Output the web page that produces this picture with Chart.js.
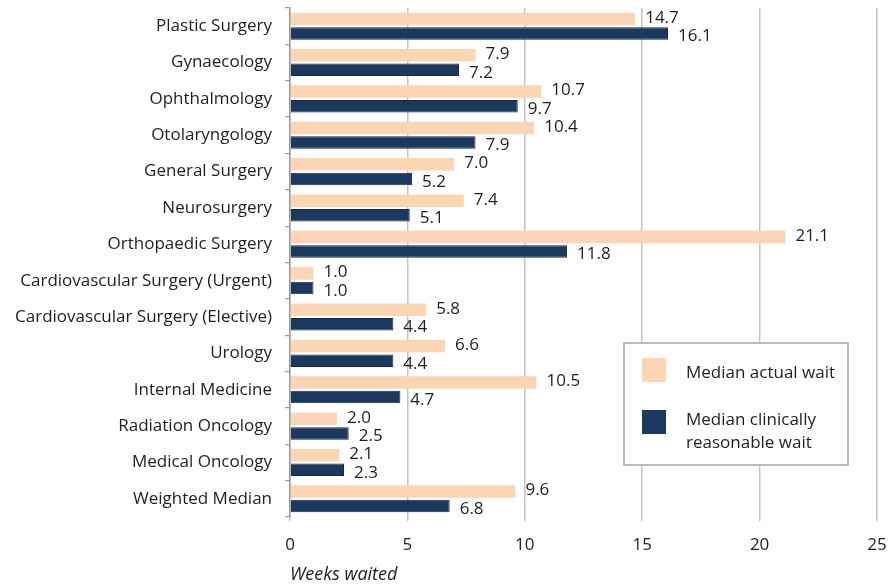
<!DOCTYPE html>
<html>
<head>
<meta charset="utf-8">
<script src="https://cdn.jsdelivr.net/npm/chart.js@4/dist/chart.umd.min.js"></script>
<style>
html,body{margin:0;padding:0;background:#fff;}
#wrap{width:889px;height:586px;position:relative;}
</style>
</head>
<body>
<div id="wrap"><canvas id="c" width="889" height="586"></canvas></div>
<script>
const categories = [
  "Plastic Surgery",
  "Gynaecology",
  "Ophthalmology",
  "Otolaryngology",
  "General Surgery",
  "Neurosurgery",
  "Orthopaedic Surgery",
  "Cardiovascular Surgery (Urgent)",
  "Cardiovascular Surgery (Elective)",
  "Urology",
  "Internal Medicine",
  "Radiation Oncology",
  "Medical Oncology",
  "Weighted Median"
];
const actualWait = [14.7, 7.9, 10.7, 10.4, 7.0, 7.4, 21.1, 1.0, 5.8, 6.6, 10.5, 2.0, 2.1, 9.6];
const reasonableWait = [16.1, 7.2, 9.7, 7.9, 5.2, 5.1, 11.8, 1.0, 4.4, 4.4, 4.7, 2.5, 2.3, 6.8];
const seriesNames = ["Median actual wait", ["Median clinically", "reasonable wait"]];
const xTicks = [0, 5, 10, 15, 20, 25];
const axisTitle = "Weeks waited";

const PEACH = '#FCD5B4';
const NAVY = '#1B385E';
const FONT = '"Open Sans"';
const TEXT = '#1e1e1e';

const valueLabels = {
  id: 'valueLabels',
  afterDatasetsDraw(chart) {
    const ctx = chart.ctx;
    ctx.save();
    ctx.font = '17px ' + FONT;
    ctx.fillStyle = TEXT;
    ctx.textAlign = 'left';
    ctx.textBaseline = 'middle';
    chart.data.datasets.forEach((ds, di) => {
      const meta = chart.getDatasetMeta(di);
      meta.data.forEach((bar, i) => {
        const dy = di === 0 ? -1 : 3;
        ctx.fillText(ds.data[i].toFixed(1), bar.x + 10, bar.y + dy);
      });
    });
    ctx.restore();
  }
};

const boxLegend = {
  id: 'boxLegend',
  afterDraw(chart) {
    const ctx = chart.ctx;
    ctx.save();
    const x0 = 624, y0 = 343, w = 224, h = 122;
    ctx.fillStyle = '#fff';
    ctx.fillRect(x0, y0, w, h);
    ctx.strokeStyle = '#a6a6a6';
    ctx.lineWidth = 1.5;
    ctx.strokeRect(x0, y0, w, h);
    ctx.fillStyle = PEACH;
    ctx.fillRect(642, 358, 24, 24);
    ctx.fillStyle = NAVY;
    ctx.fillRect(642, 410, 24, 24);
    ctx.fillStyle = TEXT;
    ctx.font = '17px ' + FONT;
    ctx.textAlign = 'left';
    ctx.textBaseline = 'middle';
    ctx.fillText(seriesNames[0], 686, 373);
    ctx.fillText(seriesNames[1][0], 686, 420);
    ctx.fillText(seriesNames[1][1], 686, 443);
    ctx.restore();
  }
};

new Chart(document.getElementById('c'), {
  type: 'bar',
  data: {
    labels: categories,
    datasets: [
      { label: "Median actual wait", data: actualWait, backgroundColor: PEACH,
        barPercentage: 0.86, categoryPercentage: 0.8 },
      { label: "Median clinically reasonable wait", data: reasonableWait, backgroundColor: NAVY,
        borderColor: '#14294a', borderWidth: 1,
        barPercentage: 0.86, categoryPercentage: 0.8 }
    ]
  },
  options: {
    indexAxis: 'y',
    responsive: false,
    animation: false,
    layout: { padding: { top: 8, right: 12, left: 0, bottom: 0 } },
    plugins: {
      legend: { display: false },
      tooltip: { enabled: false }
    },
    scales: {
      x: {
        min: 0, max: 25,
        afterBuildTicks(scale) { scale.ticks = xTicks.map(v => ({ value: v })); },
        afterFit(scale) { scale.height = 69; scale.paddingLeft = 0; scale.paddingRight = 0; },
        grid: { color: '#c4c4c4', lineWidth: 1.5, drawTicks: true, tickLength: 4, tickColor: '#c4c4c4' },
        border: { display: false },
        ticks: { font: { family: 'Open Sans', size: 17 }, color: TEXT, padding: 14 },
        title: { display: true, text: axisTitle, align: 'start',
                 font: { family: 'Open Sans', size: 18, style: 'italic' }, color: TEXT,
                 padding: { top: 0, bottom: 0 } }
      },
      y: {
        afterFit(scale) { scale.width = 290; scale.paddingTop = 0; scale.paddingBottom = 0; },
        grid: { offset: true, drawOnChartArea: false, drawTicks: true, tickLength: 5, color: '#9a9a9a', lineWidth: 1.2 },
        border: { display: true, color: '#9a9a9a', width: 1.5 },
        ticks: { font: { family: 'Open Sans', size: 17 }, color: TEXT, padding: 13, autoSkip: false }
      }
    }
  },
  plugins: [valueLabels, boxLegend]
});
</script>
</body>
</html>
